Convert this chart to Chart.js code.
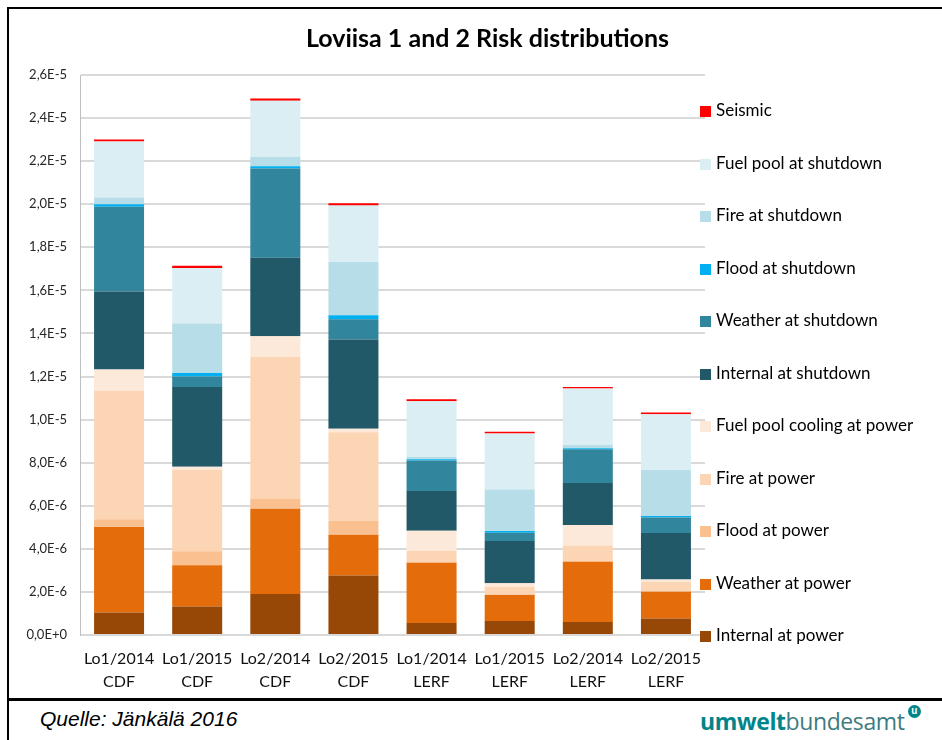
<!DOCTYPE html>
<html>
<head>
<meta charset="utf-8">
<script src="https://cdn.jsdelivr.net/npm/chart.js@4.4.1/dist/chart.umd.min.js"></script>
<style>
  body { margin: 0; background: #fff; }
  #wrap { position: relative; width: 942px; height: 740px; overflow: hidden; background: #fff; }
  #frameTop { position: absolute; left: 7px; top: 7px; width: 935px; height: 2px; background: #000; }
  #frameLeft { position: absolute; left: 7px; top: 7px; width: 2px; height: 733px; background: #000; }
  #frameMid { position: absolute; left: 7px; top: 698px; width: 935px; height: 3px; background: #000; }
  #chartBox { position: absolute; left: 0; top: 0; width: 942px; height: 698px; }
  #title { position: absolute; left: 80px; width: 815px; top: 22px; text-align: center;
           font: bold 25px Lato, sans-serif; color: #000; }
  #legend { position: absolute; left: 700px; top: 0; }
  .item { position: absolute; left: 0; white-space: nowrap; font: 17px Lato, sans-serif; color: #000; }
  .item span.box { display: inline-block; width: 11px; height: 11px; margin-right: 5px; vertical-align: -1px; }
  #quelle { position: absolute; left: 40px; top: 707px; font: italic 21px "Liberation Sans", Arial, sans-serif; color: #000; }
  #logo { position: absolute; left: 700px; top: 705px; font: 23px "Open Sans", sans-serif; letter-spacing: -0.4px; }
  #logo b { color: #00858a; font-weight: 700; }
  #logo .rest { color: #3e7b80; }
  #logo .u { position: absolute; right: -16px; top: 0px; width: 13px; height: 13px; border-radius: 50%;
             background: #00858a; color: #fff; font: bold 10px Arial, sans-serif; text-align: center; line-height: 12px; }
</style>
</head>
<body>
<div id="wrap">
  <div id="chartBox"><canvas id="myChart" width="942" height="698"></canvas></div>
  <div id="title">Loviisa 1 and 2 Risk distributions</div>
  <div id="legend"></div>
  <div id="frameTop"></div>
  <div id="frameLeft"></div>
  <div id="frameMid"></div>
  <div id="quelle">Quelle: Jänkälä 2016</div>
  <div id="logo"><b>umwelt</b><span class="rest">bundesamt</span><span class="u">u</span></div>
</div>
<script>
// Werte in Einheiten von 1E-6
const kategorien = [
    ['Lo1/2014', 'CDF'], ['Lo1/2015', 'CDF'], ['Lo2/2014', 'CDF'], ['Lo2/2015', 'CDF'],
    ['Lo1/2014', 'LERF'], ['Lo1/2015', 'LERF'], ['Lo2/2014', 'LERF'], ['Lo2/2015', 'LERF']
];

const internalAtPower = [1.04, 1.32, 1.90, 2.76, 0.56, 0.65, 0.60, 0.77];
const weatherAtPower = [3.98, 1.92, 3.96, 1.89, 2.80, 1.21, 2.80, 1.24];
const floodAtPower = [0.35, 0.65, 0.48, 0.65, 0.03, 0.03, 0.03, 0.03];
const fireAtPower = [5.98, 3.77, 6.57, 4.11, 0.51, 0.35, 0.73, 0.43];
const fuelPoolCoolingAtPower = [0.98, 0.15, 0.96, 0.17, 0.94, 0.16, 0.95, 0.11];
const internalAtShutdown = [3.62, 3.71, 3.65, 4.14, 1.85, 1.96, 1.95, 2.15];
const weatherAtShutdown = [3.93, 0.48, 4.14, 0.94, 1.41, 0.39, 1.56, 0.73];
const floodAtShutdown = [0.12, 0.17, 0.10, 0.18, 0.06, 0.08, 0.05, 0.07];
const fireAtShutdown = [0.31, 2.29, 0.43, 2.48, 0.11, 1.93, 0.15, 2.13];
const fuelPoolAtShutdown = [2.60, 2.58, 2.62, 2.62, 2.58, 2.60, 2.62, 2.59];
const seismic = [0.10, 0.10, 0.10, 0.10, 0.09, 0.08, 0.08, 0.08];

const yMax = 26;
const yStep = 2;

const serien = [
    { label: 'Internal at power', data: internalAtPower, color: '#974806' },
    { label: 'Weather at power', data: weatherAtPower, color: '#E46C0A' },
    { label: 'Flood at power', data: floodAtPower, color: '#FAC090' },
    { label: 'Fire at power', data: fireAtPower, color: '#FCD5B5' },
    { label: 'Fuel pool cooling at power', data: fuelPoolCoolingAtPower, color: '#FDE9D9' },
    { label: 'Internal at shutdown', data: internalAtShutdown, color: '#215968' },
    { label: 'Weather at shutdown', data: weatherAtShutdown, color: '#31859C' },
    { label: 'Flood at shutdown', data: floodAtShutdown, color: '#00B0F0' },
    { label: 'Fire at shutdown', data: fireAtShutdown, color: '#B7DEE8' },
    { label: 'Fuel pool at shutdown', data: fuelPoolAtShutdown, color: '#DAEEF3' },
    { label: 'Seismic', data: seismic, color: '#FF0000' }
];

// Legende (Seismic oben)
const legend = document.getElementById('legend');
serien.slice().reverse().forEach((s, i) => {
    const el = document.createElement('div');
    el.className = 'item';
    el.style.top = (99 + i * 52.5) + 'px';
    el.innerHTML = `<span class="box" style="background:${s.color}"></span>${s.label}`;
    legend.appendChild(el);
});

const ctx = document.getElementById('myChart').getContext('2d');
const myChart = new Chart(ctx, {
    type: 'bar',
    data: {
        labels: kategorien,
        datasets: serien.map(s => ({
            label: s.label,
            data: s.data,
            backgroundColor: s.color,
            borderWidth: 0,
            categoryPercentage: 1,
            barPercentage: 0.64
        }))
    },
    options: {
        responsive: false,
        animation: false,
        layout: { padding: { left: 10, top: 75, right: 237, bottom: 0 } },
        plugins: {
            legend: { display: false },
            title: { display: false },
            tooltip: { enabled: false }
        },
        scales: {
            x: {
                stacked: true,
                grid: { display: false, drawTicks: false },
                border: { display: false },
                ticks: {
                    padding: 12,
                    color: '#111',
                    font: { family: 'Lato', size: 16, lineHeight: 1.45 },
                    maxRotation: 0
                },
                afterFit: scale => { scale.height = 63; }
            },
            y: {
                stacked: true,
                min: 0,
                max: yMax,
                ticks: {
                    stepSize: yStep,
                    padding: 13,
                    color: '#262626',
                    font: { family: 'Lato', size: 13 },
                    callback: v => (v * 1e-6).toExponential(1).replace('.', ',').replace('e', 'E')
                },
                grid: { color: '#d9d9d9', lineWidth: 2, drawTicks: false },
                border: { display: true, color: '#bfbfbf', width: 1 },
                afterFit: scale => { scale.width = 70; }
            }
        }
    }
});
</script>
</body>
</html>
